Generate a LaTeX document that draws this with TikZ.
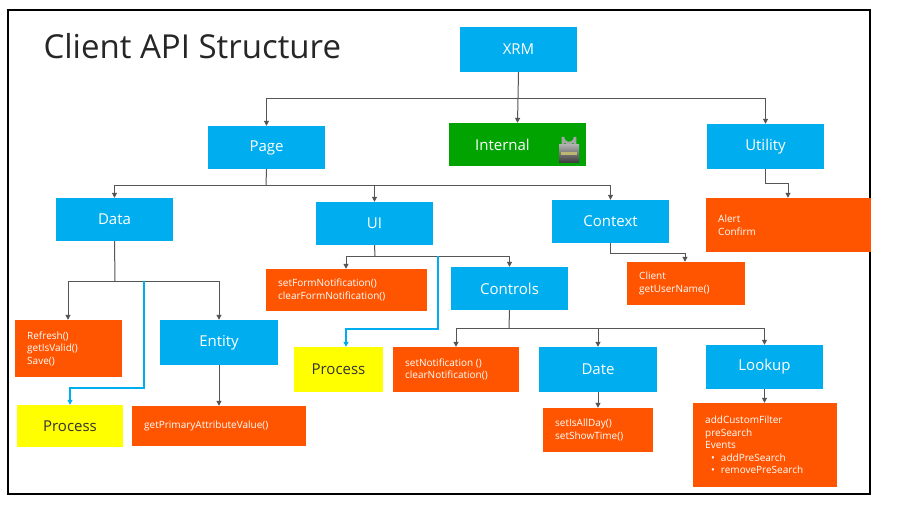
\documentclass[tikz,border=0pt]{standalone}
\usepackage{fontspec}
\setmainfont{Open Sans}
\usetikzlibrary{arrows.meta}
\definecolor{cblue}{HTML}{00AEEF}
\definecolor{corange}{HTML}{FF5500}
\definecolor{cgreen}{HTML}{00A300}
\definecolor{cyel}{HTML}{FFFF00}
\definecolor{cline}{HTML}{555555}
\newcommand\bx[7]{\node[#6, minimum width={(#4-#2)*1pt}, minimum height={(#5-#3)*1pt}] (#1) at ({(#2+#4)/2},{(#3+#5)/2}) {#7};}
\newcommand\ob[6]{\node[orb, minimum width={(#4-#2)*1pt}, minimum height={(#5-#3)*1pt}] (#1) at ({(#2+#4)/2},{(#3+#5)/2}) {};
\node[otext, anchor=west] (#1t) at ({#2+12},{(#3+#5)/2}) {#6};}
\begin{document}
\begin{tikzpicture}[x=1pt,y=-1pt,
 box/.style={draw=none, inner sep=0, font=\fontsize{15}{18}\selectfont},
 bl/.style={box, fill=cblue, text=white},
 yl/.style={box, fill=cyel, text=black!80},
 orb/.style={fill=corange, inner sep=0},
 otext/.style={text=white, align=left, inner sep=0, font=\fontsize{10}{12.5}\selectfont},
 ar/.style={draw=cline, line width=1pt, -{Triangle[length=5pt,width=5pt]}},
 ln/.style={draw=cline, line width=1pt},
 bar/.style={draw=cblue, line width=1.5pt, -{Triangle[length=5pt,width=5pt]}}]
\useasboundingbox (0,0) rectangle (899,511);
\fill[white] (0,0) rectangle (899,511);
\draw[line width=2pt] (8,10) rectangle (870,494);
\node[anchor=west, font=\fontsize{33}{36}\selectfont, text=black!85] (title) at (40,46) {Client API Structure};
% boxes
\bx{xrm}{460}{27}{577}{72}{bl}{XRM}
\bx{page}{208}{126}{325}{169}{bl}{Page}
\bx{internal}{449}{123}{586}{166}{box, fill=cgreen, text=white}{\hspace*{-30pt}Internal}
\bx{utility}{707}{124}{824}{169}{bl}{Utility}
\bx{data}{56}{198}{173}{241}{bl}{Data}
\bx{ui}{316}{202}{433}{245}{bl}{UI}
\bx{context}{552}{200}{669}{243}{bl}{Context}
\bx{controls}{451}{267}{568}{310}{bl}{Controls}
\bx{entity}{160}{320}{278}{365}{bl}{Entity}
\bx{date}{539}{347}{657}{392}{bl}{Date}
\bx{lookup}{706}{345}{823}{389}{bl}{Lookup}
\bx{proc1}{17}{405}{123}{447}{yl}{Process}
\bx{proc2}{294}{347}{383}{392}{yl}{Process}
\ob{alert}{706}{198}{871}{252}{Alert\\Confirm}
\ob{setform}{266}{269}{427}{311}{setFormNotification()\\clearFormNotification()}
\ob{client}{627}{262}{745}{305}{Client\\getUserName()}
\ob{refresh}{15}{320}{122}{377}{Refresh()\\getIsValid()\\Save()}
\ob{getprim}{132}{406}{306}{446}{getPrimaryAttributeValue()}
\ob{setnot}{393}{347}{519}{392}{setNotification ()\\clearNotification()}
\ob{setall}{543}{408}{653}{452}{setIsAllDay()\\setShowTime()}
\ob{addcf}{693}{403}{837}{487}{addCustomFilter\\preSearch\\Events\\\hspace*{6pt}\textbullet\hspace{6pt}addPreSearch\\\hspace*{6pt}\textbullet\hspace{6pt}removePreSearch}
% lock icon
\draw[line width=2.6pt, draw=gray!70] (563,145) -- (563,137) arc[start angle=180,end angle=0,radius=6] -- (575,145);
\fill[top color=gray!60, bottom color=black!75] (559,144) rectangle (579,162);
\fill[yellow!40!gray] (561,152) rectangle (577,155);
% connectors
\coordinate (j1) at (518,98);
\draw[ln] (xrm.south) -- (j1);
\draw[ar] (j1) -| (page.north);
\draw[ar] (j1) -- (internal.north);
\draw[ar] (j1) -| (utility.north);
\coordinate (j2) at (266,185);
\draw[ln] (page.south) -- (j2);
\draw[ar] (j2) -| (data.north);
\draw[ar] (j2) -| (ui.north);
\draw[ar] (j2) -| (context.north);
\coordinate (j3) at (115,281);
\draw[ln] (data.south) -- (j3);
\draw[ar] (j3) -| (refresh.north-|68,0);
\draw[ar] (j3) -| (entity.north);
\coordinate (b1) at (144,281);
\draw[bar] (b1) -- (144,388) -| (proc1.north);
\coordinate (j4) at (375,256);
\draw[ln] (ui.south) -- (j4);
\draw[ar] (j4) -| (setform.north -| 346,0);
\draw[ar] (j4) -| (controls.north);
\coordinate (b2) at (438,256);
\draw[bar] (b2) -- (438,329) -| (proc2.north -| 346,0);
\draw[ar] (context.south) |- (685,253) -- (client.north -| 685,0);
\draw[ar] (utility.south) |- (788,183) -- (alert.north -| 788,0);
\coordinate (j5) at (509,328);
\draw[ln] (controls.south) -- (j5);
\draw[ar] (j5) -| (setnot.north -| 456,0);
\draw[ar] (j5) -| (date.north);
\draw[ar] (j5) -| (lookup.north);
\draw[ar] (entity.south) -- (getprim.north -| entity.south);
\draw[ar] (date.south) -- (setall.north -| date.south);
\draw[ar] (lookup.south) -- (addcf.north -| lookup.south);
\end{tikzpicture}
\end{document}
